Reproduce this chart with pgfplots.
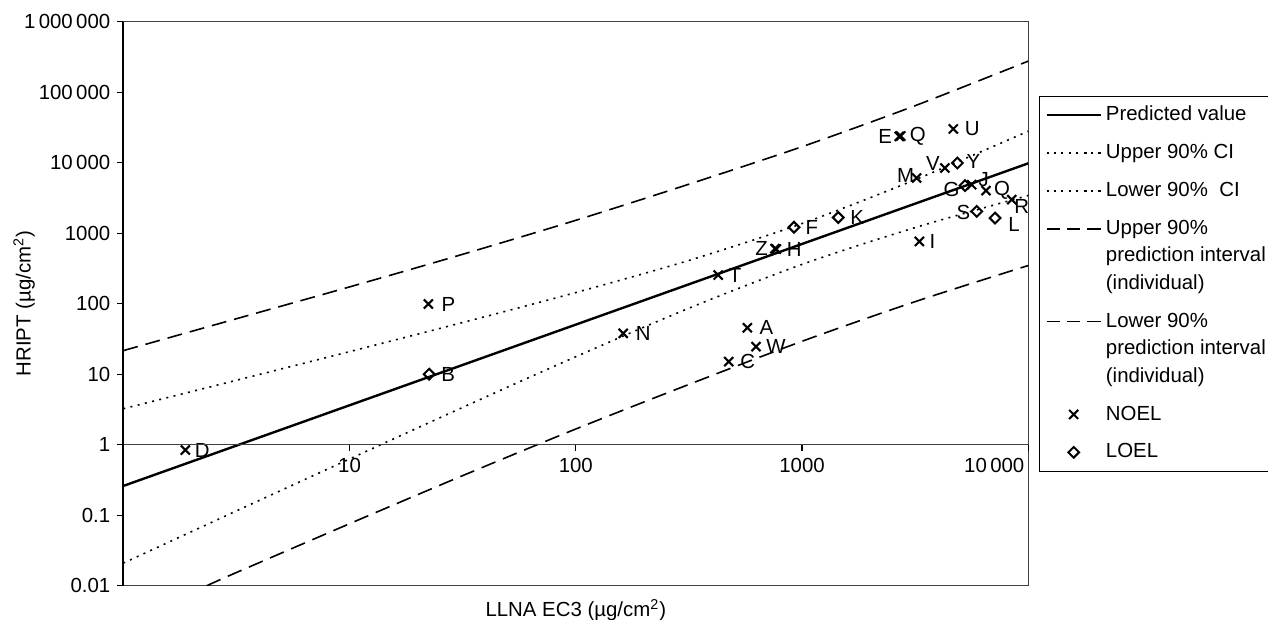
\documentclass[border=0pt]{standalone}
\usepackage{fontspec}
\setmainfont{Liberation Sans}
\usepackage{pgfplots}
\usepackage{pgfplotstable}
\pgfplotsset{compat=1.18}

\newcommand\chartfont{\fontsize{10.2}{12}\selectfont}
\newcommand\legfont{\fontsize{10.2}{13.75}\selectfont}

% x = LLNA EC3, y = HRIPT, lab = point label, dx/dy = label offset (pt)
\pgfplotstableread{
x     y      lab dx   dy
1.88  0.84   D   8.5  0
22.3  99     P   10   0
162   38     N   10   0
426   255    T   8.5  0
573   45.5   A   9.5  0
626   24.6   W   10   0
474   15.1   C   9.5  0
759   603    Z   -6.7 0
770   595    H   9    0
2690  23600  E   -7   0
2730  23900  Q   8.5  0
4660  30100  U   9.5  0
3210  6070   M   -5.5 1.5
4280  8410   V   -6   2.5
5620  4875   J   6    2.5
6500  4010   Q   8    0
8450  2990   R   5    -3.3
3300  765    I   6.5  0
}\noel

\pgfplotstableread{
x     y      lab dx   dy
22.5  10     B   9.5  0
921   1214   F   9    0
1445  1671   K   9.5  0
4860  9900   Y   8    1
5250  4720   G   -6.7 -2
5920  2040   S   -6.7 -0.5
7130  1640   L   9.5  -3
}\loel

\pgfplotsset{
  labelled/.style={
    nodes near coords, point meta=explicit symbolic,
    visualization depends on={\thisrow{dx}\as\labdx},
    visualization depends on={\thisrow{dy}\as\labdy},
    every node near coord/.append style={anchor=center, inner sep=0pt,
      xshift=\labdx pt, yshift=\labdy pt, font=\chartfont, black},
  },
  noelmark/.style={only marks, black, mark=x, mark size=3.2pt, line width=1.05pt},
  loelmark/.style={only marks, black, mark=square, mark size=1.9pt, line width=1pt,
    mark options={fill=white, rotate=45}},
  % legend sample raised to the first line of a three-line entry
  firstline legend/.style={legend image code/.code={\draw[##1, dash pattern=on 6.6pt off 3.6pt] (0cm,13.75pt) -- (0.95cm,13.75pt);}},
}

\begin{document}
\begin{tikzpicture}
\useasboundingbox (-61.65pt,-17.15pt) rectangle (572.35pt,292.85pt);

\begin{axis}[
  name=main,
  at={(0,0)}, anchor=south west,
  scale only axis, width=452.5pt, height=282pt,
  xmode=log, ymode=log,
  xmin=1, xmax=10000, ymin=0.01, ymax=1000000,
  axis line style={black!75, line width=0.7pt},
  xtick=\empty,
  ytick={0.01,0.1,1,10,100,1000,10000,100000,1000000},
  yticklabels={0.01,0.1,1,10,100,1000,10\,000,100\,000,1\,000\,000},
  ytick pos=left, tick align=outside, major tick length=3pt,
  tick style={black, line width=0.6pt},
  xminorticks=false, yminorticks=false,
  every tick label/.append style={font=\chartfont},
  ylabel={HRIPT (µg/cm\textsuperscript{2})},
  ylabel style={at={(axis description cs:-0.1096,0.5)}, anchor=center, font=\chartfont},
  xlabel={LLNA EC3 (µg/cm\textsuperscript{2})},
  xlabel style={at={(axis description cs:0.5,-0.0431)}, anchor=center, font=\chartfont},
  legend image code/.code={\draw[mark repeat=2,mark phase=2,#1] plot coordinates {(0cm,0cm) (0.475cm,0cm) (0.95cm,0cm)};},
  legend style={at={(axis description cs:1.0119,0.8688)}, anchor=north west,
    draw=black, font=\legfont, row sep=6.3pt, inner sep=3pt,
    cells={anchor=west, align=left}},
  legend cell align=left,
]
% predicted value
\addplot[black, line width=1.2pt] coordinates {(1,0.26) (100,50.5) (10000,9800)};
\addlegendentry{Predicted value}
% upper 90% CI
\addplot[black, line width=0.8pt, dash pattern=on 1pt off 2.7pt, smooth] coordinates {
  (1,3.24) (3.162,8.20) (10,20.9) (31.62,54.1) (100,144) (316.2,411) (1000,1371) (3162,5728) (10000,28000)};
\addlegendentry{Upper 90\% CI}
% lower 90% CI
\addplot[black, line width=0.8pt, dash pattern=on 1pt off 2.7pt, smooth] coordinates {
  (1,0.0209) (3.162,0.115) (10,0.627) (31.62,3.38) (100,17.7) (316.2,86.3) (1000,361) (3162,1202) (10000,3428)};
\addlegendentry{Lower 90\%\ \ CI}
% upper prediction interval
\addplot[black, line width=0.8pt, dash pattern=on 7.5pt off 4pt, smooth, firstline legend] coordinates {
  (1,21.6) (3.162,61.2) (10,173) (31.62,502) (100,1524) (316.2,4955) (1000,16870) (3162,64400) (10000,276000)};
\addlegendentry{Upper 90\%\\prediction interval\\(individual)}
% lower prediction interval
\addplot[black, line width=0.8pt, dash pattern=on 7.5pt off 4pt, smooth, firstline legend] coordinates {
  (2.34,0.01) (3.162,0.01538) (10,0.0757) (31.62,0.364) (100,1.67) (316.2,7.16) (1000,29.3) (3162,107) (10000,348)};
\addlegendentry{Lower 90\%\\prediction interval\\(individual)}

\addplot[noelmark, labelled, forget plot] table[x=x, y=y, meta=lab] {\noel};
\addlegendimage{noelmark}
\addlegendentry{NOEL}

\addplot[loelmark, labelled, forget plot] table[x=x, y=y, meta=lab] {\loel};
\addlegendimage{loelmark}
\addlegendentry{LOEL}
\end{axis}

% x axis drawn where y = 1
\begin{axis}[
  at={(0,70.5pt)}, anchor=south west,
  scale only axis, width=452.5pt, height=211.5pt,
  xmode=log, xmin=1, xmax=10000, ymin=0, ymax=1,
  axis x line=bottom, axis y line=none,
  x axis line style={-, black!75, line width=0.7pt},
  xtick={10,100,1000,10000},
  xticklabels={10,100,1000,\makebox[0pt][r]{10\,000\hspace{2pt}}},
  xminorticks=false, tick align=outside, major tick length=3pt,
  tick style={black, line width=0.6pt},
  every tick label/.append style={font=\chartfont},
]
\end{axis}

\draw[black, line width=0.9pt] (main.south west) -- (main.north west);
\end{tikzpicture}
\end{document}
